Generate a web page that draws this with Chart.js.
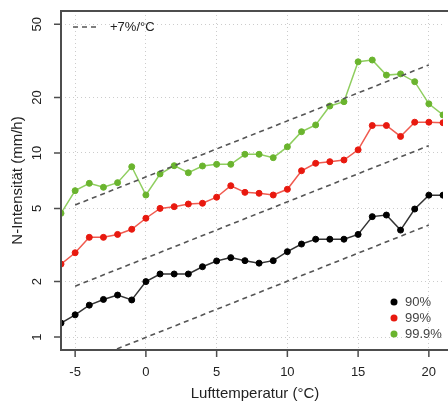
<!DOCTYPE html>
<html>
<head>
<meta charset="utf-8">
<script src="https://cdn.jsdelivr.net/npm/chart.js@4"></script>
<style>
  html, body { margin: 0; padding: 0; background: #fff; overflow: hidden; }
</style>
</head>
<body>
<canvas id="c" width="448" height="405"></canvas>
<script>
// Temperaturklassen (°C)
const temps = [-6, -5, -4, -3, -2, -1, 0, 1, 2, 3, 4, 5, 6, 7, 8, 9, 10, 11, 12, 13, 14, 15, 16, 17, 18, 19, 20, 21];

// Perzentile der Niederschlagsintensität (mm/h)
const p90 = [1.19, 1.32, 1.49, 1.60, 1.69, 1.59, 2.0, 2.2, 2.2, 2.2, 2.41, 2.59,
             2.70, 2.60, 2.52, 2.60, 2.91, 3.20, 3.40, 3.40, 3.40, 3.61, 4.51, 4.60, 3.81, 4.96, 5.9, 5.9];
const p99 = [2.49, 2.87, 3.48, 3.48, 3.61, 3.85, 4.42, 5.0, 5.11, 5.28, 5.33, 5.75,
             6.64, 6.11, 6.04, 5.91, 6.35, 8.01, 8.79, 8.97, 9.16, 10.4, 14.1, 14.1, 12.3, 14.7, 14.7, 14.6];
const p999 = [4.70, 6.24, 6.84, 6.51, 6.90, 8.42, 5.91, 7.69, 8.53, 7.81, 8.50, 8.68,
              8.68, 9.84, 9.84, 9.43, 10.8, 13.05, 14.2, 18.0, 19.0, 31.3, 32.0, 26.5, 26.9, 24.4, 18.5, 16.1];

// Referenzlinien +7%/°C (Endpunkte)
const refT = [-5, 20];
const refTop = [5.22, 30.1];
const refMid = [1.89, 10.96];
const refLow = [0.70, 4.06];

const xTicks = [-5, 0, 5, 10, 15, 20];
const yTicks = [1, 2, 5, 10, 20, 50];
const seriesNames = ['90%', '99%', '99.9%'];
const pointColors = ['#000000', '#e8190f', '#6ab42e'];
const lineColors = ['#333333', '#f05a4f', '#8fce5f'];

const FONT = '"Liberation Sans", Arial, Helvetica, sans-serif';

const toXY = (xs, ys) => xs.map((t, i) => ({ x: t, y: ys[i] }));

const refLine = (vals) => ({
    data: toXY(refT, vals),
    borderColor: '#555',
    borderWidth: 1.6,
    borderDash: [5, 4],
    pointRadius: 0
});

const series = (vals, i) => ({
    label: seriesNames[i],
    data: toXY(temps, vals),
    borderColor: lineColors[i],
    borderWidth: 1.5,
    pointBackgroundColor: pointColors[i],
    pointBorderColor: pointColors[i],
    pointBorderWidth: 1,
    pointRadius: 3,
    tension: 0
});

// Rahmen (rechts abgeschnitten), Achsenbeschriftung und Legenden
const frame = {
    id: 'frame',
    afterDraw(chart) {
        const { ctx, chartArea: a, scales: { x, y } } = chart;
        ctx.save();
        ctx.strokeStyle = '#4d4d4d';
        ctx.lineWidth = 2;
        ctx.setLineDash([]);
        ctx.beginPath();
        ctx.moveTo(chart.width, a.top);
        ctx.lineTo(a.left, a.top);
        ctx.lineTo(a.left, a.bottom);
        ctx.lineTo(chart.width, a.bottom);
        ctx.stroke();

        ctx.lineWidth = 1.5;
        ctx.beginPath();
        xTicks.forEach(v => {
            const px = x.getPixelForValue(v);
            ctx.moveTo(px, a.bottom);
            ctx.lineTo(px, a.bottom + 7);
        });
        yTicks.forEach(v => {
            const py = y.getPixelForValue(v);
            ctx.moveTo(a.left, py);
            ctx.lineTo(a.left - 7, py);
        });
        ctx.stroke();

        ctx.fillStyle = '#222';
        ctx.font = '13px ' + FONT;
        ctx.textAlign = 'center';
        ctx.textBaseline = 'middle';
        xTicks.forEach(v => ctx.fillText(String(v), x.getPixelForValue(v), a.bottom + 22));
        yTicks.forEach(v => {
            ctx.save();
            ctx.translate(a.left - 24, y.getPixelForValue(v));
            ctx.rotate(-Math.PI / 2);
            ctx.fillText(String(v), 0, 0);
            ctx.restore();
        });

        ctx.font = '15px ' + FONT;
        ctx.fillText('Lufttemperatur (°C)', 255, 394);
        ctx.save();
        ctx.translate(18, (a.top + a.bottom) / 2);
        ctx.rotate(-Math.PI / 2);
        ctx.fillText('N-Intensität (mm/h)', 0, 0);
        ctx.restore();

        // Legende oben links
        ctx.strokeStyle = '#555';
        ctx.lineWidth = 1.6;
        ctx.setLineDash([5, 4]);
        ctx.beginPath();
        ctx.moveTo(73, 27);
        ctx.lineTo(98, 27);
        ctx.stroke();
        ctx.setLineDash([]);
        ctx.font = '13px ' + FONT;
        ctx.textAlign = 'left';
        ctx.fillText('+7%/°C', 110, 27);

        // Legende unten rechts
        seriesNames.forEach((name, i) => {
            const ly = 302 + i * 16;
            ctx.fillStyle = pointColors[i];
            ctx.beginPath();
            ctx.arc(394, ly, 3.5, 0, Math.PI * 2);
            ctx.fill();
            ctx.fillStyle = '#444';
            ctx.fillText(name, 405, ly);
        });
        ctx.restore();
    }
};

new Chart(document.getElementById('c'), {
    type: 'line',
    data: {
        datasets: [
            refLine(refTop), refLine(refMid), refLine(refLow),
            series(p90, 0), series(p99, 1), series(p999, 2)
        ]
    },
    options: {
        responsive: false,
        animation: false,
        devicePixelRatio: 1,
        layout: { padding: { top: 11, left: 0, right: 0, bottom: 0 } },
        plugins: { legend: { display: false }, tooltip: { enabled: false } },
        scales: {
            x: {
                type: 'linear',
                min: -6,
                max: 21,
                afterBuildTicks: s => { s.ticks = xTicks.map(v => ({ value: v })); },
                afterFit: s => { s.height = 55; },
                ticks: { display: false },
                grid: { color: '#cccccc', lineWidth: 1, drawTicks: false },
                border: { display: false, dash: [1, 3] }
            },
            y: {
                type: 'logarithmic',
                min: 0.85,
                max: 59.1,
                afterBuildTicks: s => { s.ticks = yTicks.map(v => ({ value: v })); },
                afterFit: s => { s.width = 61; },
                ticks: { display: false },
                grid: { color: '#cccccc', lineWidth: 1, drawTicks: false },
                border: { display: false, dash: [1, 3] }
            }
        }
    },
    plugins: [frame]
});
</script>
</body>
</html>
